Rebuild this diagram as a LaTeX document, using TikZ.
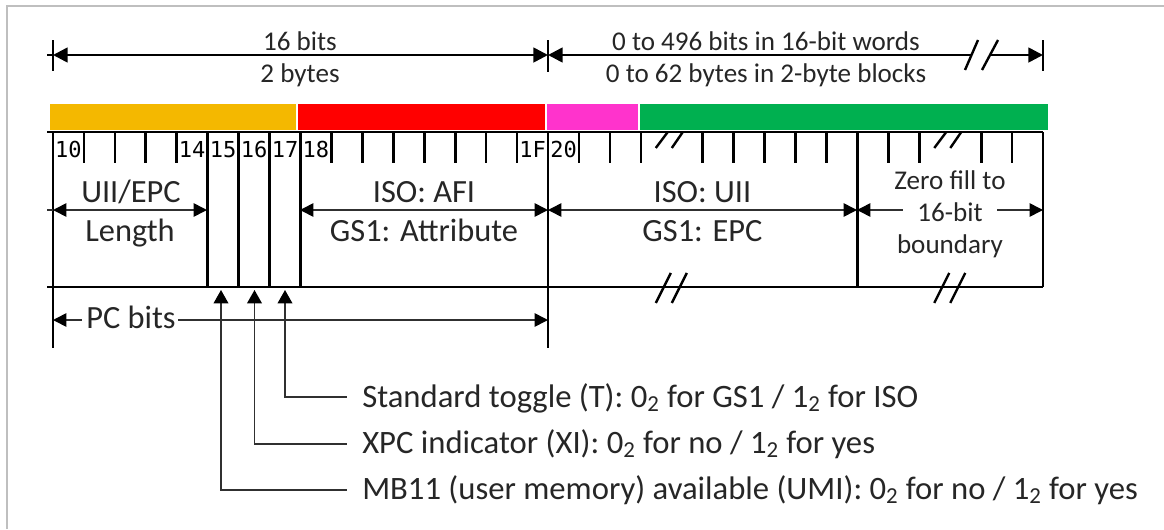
\documentclass[tikz,border=0pt]{standalone}
\usepackage{fontspec}
\setmainfont{Carlito}
\newfontfamily\bitfont{DejaVu Sans Mono}
\usetikzlibrary{arrows.meta}
\definecolor{cOrange}{HTML}{F4B800}
\definecolor{cRed}{HTML}{FF0000}
\definecolor{cMag}{HTML}{FF33CC}
\definecolor{cGreen}{HTML}{00B050}
\definecolor{cText}{HTML}{262626}
\definecolor{cThin}{HTML}{303030}
\definecolor{cFrame}{HTML}{BFBFBF}
\begin{document}
\begin{tikzpicture}[x=0.75pt,y=-0.75pt,
  gline/.style={line width=2pt,black},
  brk/.style={line width=1.8pt,black},
  dimline/.style={line width=2pt,black,
     >={Triangle[length=11pt,width=11pt]}},
  farrow/.style={line width=1.2pt,cThin,
     >={Triangle[length=10pt,width=10pt,color=black]}},
  callout/.style={line width=1.1pt,cThin,
     >={Triangle[length=10pt,width=11pt,color=black]}},
  toplbl/.style={text=cText,inner sep=0pt,anchor=base,font=\fontsize{20.3}{24}\selectfont},
  fieldlbl/.style={text=cText,inner sep=0pt,anchor=base,font=\fontsize{24.3}{28}\selectfont},
  zerolbl/.style={text=cText,inner sep=0pt,anchor=base,font=\fontsize{20.3}{24}\selectfont},
  notelbl/.style={text=cText,inner sep=0pt,anchor=base west,font=\fontsize{24.5}{28}\selectfont},
  bitlbl/.style={text=black,inner sep=0pt,anchor=center,font=\bitfont\fontsize{16.5}{19}\selectfont},
]
\useasboundingbox (0,0) rectangle (1164,529);
% frame
\draw[cFrame,line width=1.5pt] (7,529) -- (7,6) -- (1164,6);

% ---------- top dimension ----------
\coordinate (dL) at (53,55);
\coordinate (dM) at (548,55);
\coordinate (dR) at (1043,55);
\coordinate (dS) at (47,55);
\coordinate (dB1) at (972,55);
\coordinate (dB2) at (990,55);
\draw[gline] (53,40) -- (53,71);
\draw[gline] (548,40) -- (548,72);
\draw[gline] (1043,40) -- (1043,71);
\draw[dimline] (dS) -- (dL);
\draw[dimline,<->] (dL) -- (dM);
\draw[dimline,<-] (dM) -- (dB1);
\draw[dimline,->] (dB2) -- (dR);
\draw[brk] (965,70) -- (978,40);
\draw[brk] (982,70) -- (998,40);
\node[toplbl] (t16) at (300,50) {16 bits};
\node[toplbl] (t2) at (300,82) {2 bytes};
\node[toplbl] (t496) at (766,50) {0 to 496 bits in 16-bit words};
\node[toplbl] (t62) at (766,82) {0 to 62 bytes in 2-byte blocks};

% ---------- colour bar ----------
\fill[cOrange] (50,104) rectangle (296,130);
\fill[cRed] (298,104) rectangle (545,130);
\fill[cMag] (547,104) rectangle (638,130);
\fill[cGreen] (640,104) rectangle (1048,130);

% ---------- ruler ----------
\draw[gline] (47,132) -- (1043,132);
\draw[gline] (47,287) -- (1043,287);
\foreach \k in {1,2,3,4,9,10,11,12,13,14,15,17,18,19,21,22,23,24,25,27,28,30,31}
  \draw[gline] ({53+\k*30.94},132) -- ({53+\k*30.94},163);
\foreach \k in {5,6,7,8,26,32}
  \draw[gline] ({53+\k*30.94},132) -- ({53+\k*30.94},287);
\draw[gline] (53,132) -- (53,348);
\draw[gline] (548,132) -- (548,348);
% breaks in tick row
\foreach \k in {20,29}{
  \draw[brk] ({53+\k*30.94-16},148) -- ({53+\k*30.94-4},132);
  \draw[brk] ({53+\k*30.94},148) -- ({53+\k*30.94+11},132);
}
% breaks on bottom line
\foreach \k in {20,29}{
  \draw[brk] ({53+\k*30.94-16},303) -- ({53+\k*30.94-1},273);
  \draw[brk] ({53+\k*30.94},303) -- ({53+\k*30.94+15},273);
}
% bit numbers
\foreach \k/\t in {0/10,4/14,5/15,6/16,7/17,8/18,15/1F,16/20}
  \node[bitlbl] (b\t) at ({53+(\k+0.5)*30.94},149.5) {\t};

% ---------- field labels ----------
\coordinate (fA) at (53,210);
\coordinate (fB) at (207,210);
\coordinate (fC) at (300,210);
\coordinate (fD) at (548,210);
\coordinate (fE) at (857,210);
\coordinate (fF) at (1043,210);
\coordinate (fS) at (47,210);
\coordinate (fZ1) at (903,210);
\coordinate (fZ2) at (997,210);
\draw[farrow] (fS) -- (fA);
\draw[farrow,<->] (fA) -- (fB);
\draw[farrow,<->] (fC) -- (fD);
\draw[farrow,<->] (fD) -- (fE);
\draw[farrow,<-] (fE) -- (fZ1);
\draw[farrow,->] (fZ2) -- (fF);
\node[fieldlbl] (uii) at (131,202) {UII/EPC};
\node[fieldlbl] (len) at (130,241) {Length};
\node[fieldlbl] (afi) at (424,202) {ISO: AFI};
\node[fieldlbl] (attr) at (424,241) {GS1: Attribute};
\node[fieldlbl] (isouii) at (702.5,202) {ISO: UII};
\node[fieldlbl] (epc) at (702.5,241) {GS1: EPC};
\node[zerolbl] (z1) at (950,189) {Zero fill to};
\node[zerolbl] (z2) at (950,221) {16-bit};
\node[zerolbl] (z3) at (950,253) {boundary};

% ---------- PC bits ----------
\coordinate (pL) at (53,320);
\coordinate (pR) at (548,320);
\node[fieldlbl] (pc) at (131,328) {PC bits};
\draw[farrow,<-] (pL) -- (82,320);
\draw[farrow,->] (178,320) -- (pR);

% ---------- callouts ----------
\coordinate (aM) at (221,290);
\coordinate (aX) at (254.5,290);
\coordinate (aS) at (285,290);
\coordinate (cS) at (347,397);
\coordinate (cX) at (347,444);
\coordinate (cM) at (347,490);
\draw[callout,<-] (aS) |- (cS);
\draw[callout,<-] (aX) |- (cX);
\draw[callout,<-] (aM) |- (cM);
\node[notelbl] (nS) at (362,407) {Standard toggle (T): 0\textsubscript{2} for GS1 / 1\textsubscript{2} for ISO};
\node[notelbl] (nX) at (362,453) {XPC indicator (XI): 0\textsubscript{2} for no / 1\textsubscript{2} for yes};
\node[notelbl] (nM) at (362,499) {MB11 (user memory) available (UMI): 0\textsubscript{2} for no / 1\textsubscript{2} for yes};
\end{tikzpicture}
\end{document}
